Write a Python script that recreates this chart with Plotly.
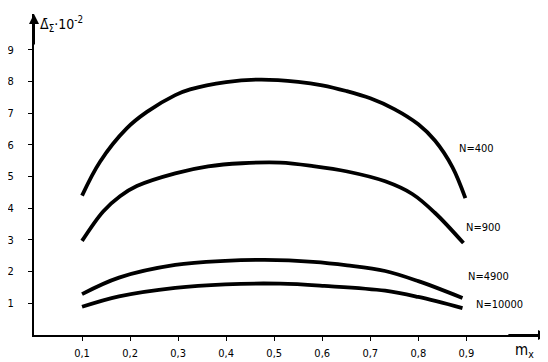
import plotly.graph_objects as go

# Data
m400 = [0.10, 0.1375, 0.193, 0.235, 0.294, 0.325, 0.40, 0.47, 0.55, 0.60, 0.65, 0.70, 0.75, 0.80, 0.835, 0.871, 0.898]
v400 = [4.40, 5.47, 6.52, 7.04, 7.57, 7.75, 7.98, 8.06, 7.99, 7.88, 7.70, 7.47, 7.13, 6.65, 6.13, 5.30, 4.32]

m900 = [0.10, 0.144, 0.179, 0.214, 0.294, 0.3625, 0.433, 0.5125, 0.581, 0.652, 0.731, 0.7875, 0.835, 0.894]
v900 = [2.97, 3.90, 4.38, 4.70, 5.10, 5.32, 5.42, 5.44, 5.33, 5.16, 4.85, 4.45, 3.85, 2.90]

m4900 = [0.10, 0.177, 0.294, 0.398, 0.48, 0.581, 0.652, 0.731, 0.80, 0.892]
v4900 = [1.29, 1.81, 2.21, 2.34, 2.37, 2.31, 2.20, 2.02, 1.70, 1.17]

m10000 = [0.10, 0.177, 0.294, 0.398, 0.5125, 0.604, 0.731, 0.80, 0.892]
v10000 = [0.89, 1.22, 1.49, 1.60, 1.62, 1.55, 1.40, 1.20, 0.85]

series_names = ["N=400", "N=900", "N=4900", "N=10000"]
label_m = [0.921, 0.935, 0.946, 0.969]
label_v = [5.9, 3.38, 1.86, 0.95]

x_tickvals = [0.1, 0.2, 0.3, 0.4, 0.5, 0.6, 0.7, 0.8, 0.9]
x_ticktext = ["0,1", "0,2", "0,3", "0,4", "0,5", "0,6", "0,7", "0,8", "0,9"]
y_tickvals = [1, 2, 3, 4, 5, 6, 7, 8, 9]
y_ticktext = ["1", "2", "3", "4", "5", "6", "7", "8", "9"]

font = dict(family="DejaVu Sans Condensed, DejaVu Sans, Arial", size=11, color="black")

fig = go.Figure()
for xs, ys in [(m400, v400), (m900, v900), (m4900, v4900), (m10000, v10000)]:
    fig.add_trace(go.Scatter(x=xs, y=ys, mode="lines",
                             line=dict(color="black", width=3.8, shape="spline", smoothing=1.0),
                             showlegend=False, hoverinfo="skip"))

annotations = []
for name, lx, ly in zip(series_names, label_m, label_v):
    annotations.append(dict(x=lx, y=ly, xref="x", yref="y", text=name, showarrow=False,
                            font=dict(family=font["family"], size=11, color="black")))

# axis titles
annotations.append(dict(x=0.008, y=1.0, xref="paper", yref="paper", xanchor="left", yanchor="top",
                        yshift=2, text="Δ̄<sub>Σ</sub>·10<sup>-2</sup>", showarrow=False,
                        font=dict(family=font["family"], size=14, color="black")))
annotations.append(dict(x=1.0, y=0, xref="paper", yref="paper", xanchor="right", yanchor="top",
                        xshift=-12, yshift=-4, text="m<sub>x</sub>", showarrow=False,
                        font=dict(family=font["family"], size=15, color="black")))
# axis arrows
annotations.append(dict(x=0, y=1.0, ax=0, ay=0.9, xref="x", yref="y domain", axref="x", ayref="y domain",
                        text="", showarrow=True, arrowhead=2, arrowsize=1, arrowwidth=2, arrowcolor="black"))
annotations.append(dict(x=1.0, y=0, ax=0.92, ay=0, xref="x domain", yref="y", axref="x domain", ayref="y",
                        text="", showarrow=True, arrowhead=2, arrowsize=1, arrowwidth=2, arrowcolor="black"))

# page body has an 8px margin, so the figure is drawn 8px smaller and offset
fig.update_layout(
    width=540, height=354,
    margin=dict(l=26, r=0, t=6, b=27),
    paper_bgcolor="white", plot_bgcolor="white",
    font=font,
    annotations=annotations,
    xaxis=dict(range=[0, 1.07], tickvals=x_tickvals, ticktext=x_ticktext, showgrid=False,
               zeroline=False, showline=True, linecolor="black", linewidth=2,
               ticks="outside", ticklen=4, tickcolor="black", tickwidth=1, ticklabelstandoff=3),
    yaxis=dict(range=[0, 10.13], tickvals=y_tickvals, ticktext=y_ticktext, showgrid=False,
               zeroline=False, showline=True, linecolor="black", linewidth=2,
               ticks="outside", ticklen=4, tickcolor="black", tickwidth=1, ticklabelstandoff=12),
)

fig.write_html("out.html")
